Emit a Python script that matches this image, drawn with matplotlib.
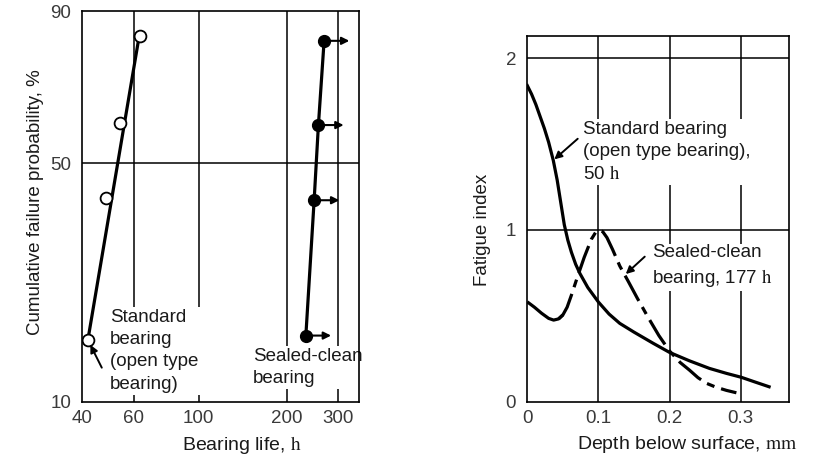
import numpy as np
import matplotlib
matplotlib.use("Agg")
import matplotlib.pyplot as plt
from matplotlib.ticker import FixedLocator, NullLocator

plt.rcParams['font.family'] = ['Liberation Sans', 'DejaVu Sans']
plt.rcParams['mathtext.fontset'] = 'stix'

# ---- left panel: Weibull plot of bearing life ----
std_life = [41.8, 48.2, 53.8, 63.0]
std_prob = [15.8, 41.0, 61.3, 85.0]
std_fit_life = [41.8, 62.3]
std_fit_prob = [15.8, 84.0]

sealed_life = [232.8, 248.5, 257.0, 268.8]
sealed_prob = [16.3, 40.4, 60.8, 83.8]

life_ticks = [40, 60, 100, 200, 300]
prob_ticks = [10, 50, 90]

# ---- right panel: fatigue index vs depth ----
std_depth = [0, 0.006, 0.012, 0.018, 0.024, 0.03, 0.0365, 0.042, 0.047, 0.052, 0.057,
             0.062, 0.068, 0.074, 0.085, 0.1, 0.115, 0.13, 0.15, 0.177, 0.2, 0.228,
             0.256, 0.28, 0.301, 0.32, 0.34]
std_index = [1.84, 1.79, 1.73, 1.66, 1.59, 1.51, 1.405, 1.29, 1.16, 1.03, 0.94,
             0.87, 0.80, 0.746, 0.665, 0.58, 0.51, 0.456, 0.405, 0.34, 0.287, 0.238,
             0.194, 0.165, 0.142, 0.115, 0.087]

sealed_depth = [0, 0.01, 0.02, 0.03, 0.037, 0.044, 0.05, 0.056, 0.062, 0.07,
                0.08, 0.09, 0.096, 0.101, 0.106, 0.112, 0.12, 0.13, 0.142, 0.155,
                0.17, 0.185, 0.2, 0.215, 0.228, 0.24, 0.252, 0.265, 0.28, 0.294]
sealed_index = [0.581, 0.55, 0.515, 0.485, 0.475, 0.482, 0.505, 0.55, 0.62, 0.72,
                0.84, 0.945, 0.985, 0.998, 0.99, 0.955, 0.885, 0.79, 0.70, 0.60,
                0.49, 0.385, 0.295, 0.228, 0.184, 0.14, 0.107, 0.085, 0.066, 0.052]

depth_ticks = [0, 0.1, 0.2, 0.3]
depth_tick_labels = ['0', '0.1', '0.2', '0.3']
index_ticks = [0, 1, 2]


def weibull(p):
    p = np.clip(np.asarray(p, dtype=float), 1e-6, 100 - 1e-6)
    return np.log(-np.log(1 - p / 100))


def weibull_inv(w):
    return 100 * (1 - np.exp(-np.exp(w)))


TXT = '#1a1a1a'
TICK = '#3a3a3a'
box = dict(facecolor='white', edgecolor='none', pad=1.5)

fig = plt.figure(figsize=(8.14, 4.65), dpi=100)
ax1 = fig.add_axes([0.1011, 0.1355, 0.3400, 0.8408])
ax2 = fig.add_axes([0.6478, 0.1361, 0.3215, 0.7871])

# left panel
ax1.set_xscale('log')
ax1.set_yscale('function', functions=(weibull, weibull_inv))
ax1.set_xlim(40, 354)
ax1.set_ylim(10, 90)
for v in life_ticks[1:]:
    ax1.axvline(v, color='black', lw=1.1, zorder=1)
ax1.axhline(50, color='black', lw=1.1, zorder=1)

ax1.plot(std_fit_life, std_fit_prob, color='black', lw=2.3, zorder=3)
ax1.plot(std_life, std_prob, 'o', ms=8.5, mfc='white', mec='black', mew=1.3, zorder=4)
ax1.plot(sealed_life, sealed_prob, color='black', lw=2.3, zorder=3)
ax1.plot(sealed_life, sealed_prob, 'o', ms=8.5, color='black', zorder=4)
for x, y in zip(sealed_life, sealed_prob):
    ax1.annotate('', xy=(x * 1.22, y), xytext=(x, y),
                 arrowprops=dict(arrowstyle='-|>', color='black', lw=1.5,
                                 shrinkA=0, shrinkB=0, mutation_scale=11), zorder=3)
ax1.annotate('', xy=(std_life[0], std_prob[0]), xytext=(10, -20),
             textcoords='offset points',
             arrowprops=dict(arrowstyle='-|>', color='black', lw=1.4,
                             shrinkA=0, shrinkB=4, mutation_scale=11))

ax1.text(0.101, 0.238, 'Standard\nbearing\n(open type\nbearing)', transform=ax1.transAxes,
         ha='left', va='top', fontsize=13.5, color=TXT, linespacing=1.4, bbox=box, zorder=2)
ax1.text(0.617, 0.138, 'Sealed-clean\nbearing', transform=ax1.transAxes,
         ha='left', va='top', fontsize=13.5, color=TXT, linespacing=1.4, bbox=box, zorder=2)

ax1.xaxis.set_major_locator(FixedLocator(life_ticks))
ax1.xaxis.set_minor_locator(NullLocator())
ax1.set_xticklabels([str(v) for v in life_ticks])
ax1.yaxis.set_major_locator(FixedLocator(prob_ticks))
ax1.yaxis.set_minor_locator(NullLocator())
ax1.set_yticklabels([str(v) for v in prob_ticks])
ax1.tick_params(length=0, labelsize=13.5, labelcolor=TICK)
ax1.tick_params(axis='y', pad=8)
ax1.tick_params(axis='x', pad=6)
ax1.set_xlabel('Bearing life, $\\mathrm{h}$', fontsize=14, color=TXT)
ax1.xaxis.set_label_coords(0.578, -0.082)
ax1.set_ylabel('Cumulative failure probability, %', fontsize=13.5, color=TXT)
ax1.yaxis.set_label_coords(-0.14, 0.51)

# right panel
ax2.set_xlim(0, 0.368)
ax2.set_ylim(0, 2.13)
for v in depth_ticks[1:]:
    ax2.axvline(v, color='black', lw=1.1, zorder=1)
for v in index_ticks[1:]:
    ax2.axhline(v, color='black', lw=1.1, zorder=1)

ax2.plot(std_depth, std_index, color='black', lw=2.3, zorder=3)
sd = np.array(sealed_depth)
si = np.array(sealed_index)
solid = sd <= 0.05
ax2.plot(sd[solid], si[solid], color='black', lw=2.3, zorder=3, solid_capstyle='butt')
ax2.plot(sd[sd >= 0.044], si[sd >= 0.044], color='black', lw=2.3, zorder=3,
         dashes=(9, 2.2, 2.5, 2.2), dash_capstyle='butt')

xa = 0.0365
ax2.annotate('', xy=(xa, np.interp(xa, std_depth, std_index)), xytext=(17.6, 15.5),
             textcoords='offset points',
             arrowprops=dict(arrowstyle='-|>', color='black', lw=1.4,
                             shrinkA=0, shrinkB=1, mutation_scale=11))
xb = 0.137
ax2.annotate('', xy=(xb, np.interp(xb, sealed_depth, sealed_index)), xytext=(14.4, 13.2),
             textcoords='offset points',
             arrowprops=dict(arrowstyle='-|>', color='black', lw=1.4,
                             shrinkA=0, shrinkB=1, mutation_scale=11))

ax2.text(0.212, 0.768, 'Standard bearing\n(open type bearing),\n50 $\\mathrm{h}$',
         transform=ax2.transAxes, ha='left', va='top', fontsize=13.5, color=TXT,
         linespacing=1.38, bbox=box, zorder=2)
ax2.text(0.475, 0.43, 'Sealed-clean\nbearing, 177 $\\mathrm{h}$',
         transform=ax2.transAxes, ha='left', va='top', fontsize=13.5, color=TXT,
         linespacing=1.38, bbox=box, zorder=2)

ax2.set_xticks(depth_ticks)
ax2.set_xticklabels(depth_tick_labels)
ax2.set_yticks(index_ticks)
ax2.tick_params(length=0, labelsize=13.5, labelcolor=TICK)
ax2.tick_params(axis='y', pad=8)
ax2.tick_params(axis='x', pad=6)
ax2.set_xlabel('Depth below surface, $\\mathrm{mm}$', fontsize=14, color=TXT)
ax2.xaxis.set_label_coords(0.61, -0.088)
ax2.set_ylabel('Fatigue index', fontsize=13.5, color=TXT)
ax2.yaxis.set_label_coords(-0.14, 0.47)

for ax in (ax1, ax2):
    for s in ax.spines.values():
        s.set_linewidth(1.2)
        s.set_color('black')

fig.savefig('out.png', dpi=100)
